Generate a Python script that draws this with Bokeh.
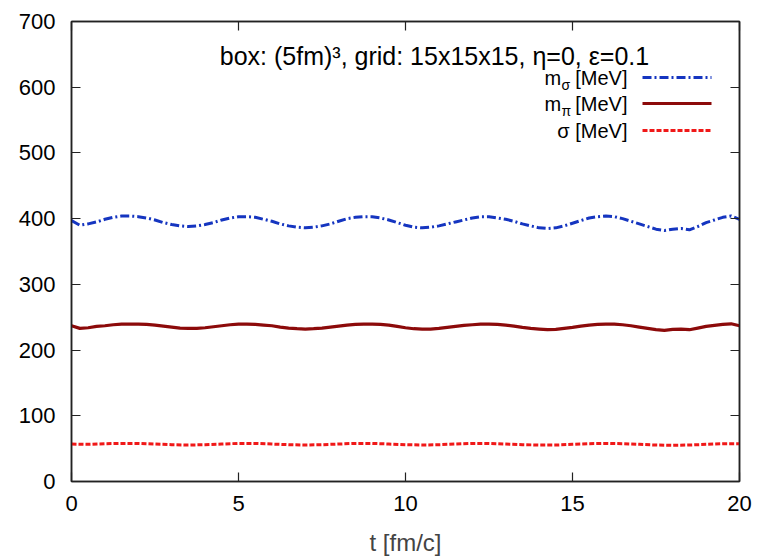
from bokeh.plotting import figure
from bokeh.models import LinearAxis, Range1d, Label, FixedTicker
from bokeh.embed import file_html
from bokeh.resources import INLINE

# ---------------- data ----------------
t_fine = [round(0.25 * i, 2) for i in range(81)]
m_sigma = [397, 390, 392, 395, 399, 402, 404, 404, 403, 401, 398, 394, 391, 389, 388, 389,
           391, 394, 398, 401, 403, 403, 402, 399, 396, 392, 389, 387, 386, 387, 389, 392,
           396, 400, 402, 403, 403, 401, 398, 394, 390, 387, 386, 387, 389, 392, 395, 398,
           401, 403, 403, 401, 399, 396, 392, 389, 386, 385, 386, 389, 393, 397, 401, 403,
           404, 403, 400, 396, 392, 388, 384, 382, 384, 385, 383, 388, 394, 398, 402, 404, 399]
m_pi = [237, 233, 234, 236, 237, 238.5, 239.5, 239.5, 239.5, 239, 238, 236.5, 235, 233.5, 233, 233,
        234, 235.5, 237, 238.5, 239.5, 239.5, 239, 238, 237, 235, 233.5, 232.5, 232, 232.5, 233.5, 235,
        236.5, 238, 239, 239.5, 239.5, 239, 238, 236, 234, 232.5, 232, 232, 233, 234.5, 236, 237.5,
        238.5, 239.5, 239.5, 239, 238, 236.5, 234.5, 233, 232, 231, 231.5, 233, 234.5, 236.5, 238, 239,
        239.5, 239.5, 238.5, 237, 235, 233, 231, 230, 231.5, 232, 231, 233.5, 236, 237.5, 239, 240, 237]
t_coarse = [round(0.5 * i, 1) for i in range(41)]
sigma = [57, 56.5, 57.5, 58, 58, 57, 56, 55.5, 56, 57, 58, 58, 57, 56, 55.5, 56, 57, 58, 58, 57,
         56, 55.5, 56, 57, 58, 58, 57, 56, 55.5, 55.5, 56.5, 57.5, 58, 57.5, 56.5, 55.5, 55, 55.5,
         56.5, 57.5, 57.5]

x_ticks = [0, 5, 10, 15, 20]
y_ticks = [0, 100, 200, 300, 400, 500, 600, 700]
title_text = "box: (5fm)\u00b3, grid: 15x15x15, \u03b7=0, \u03b5=0.1"
x_label = "t [fm/c]"

# ---------------- layout ----------------
W, H = 761, 558
FL, FR, FT, FB = 71, 739, 21, 481   # frame pixel edges
X_MIN, X_MAX, Y_MIN, Y_MAX = 0, 20, 0, 700
FONT = "Liberation Sans"

def dx(px):
    return X_MIN + (px - FL) / (FR - FL) * (X_MAX - X_MIN)

def dy(py):
    return Y_MIN + (FB - py) / (FB - FT) * (Y_MAX - Y_MIN)

BLUE = "#1535c0"
DARK = "#8c0a0a"
RED = "#f01818"

p = figure(width=W, height=H, output_backend="svg", toolbar_location=None,
           x_range=Range1d(X_MIN, X_MAX), y_range=Range1d(Y_MIN, Y_MAX),
           min_border_left=FL, min_border_right=W - FR,
           min_border_top=FT, min_border_bottom=H - FB)
p.xgrid.visible = False
p.ygrid.visible = False
p.outline_line_color = "#222222"
p.outline_line_width = 1.5
p.background_fill_color = "white"
p.border_fill_color = "white"

def style_axis(ax, labels=True):
    ax.axis_line_color = "#222222"
    ax.axis_line_width = 1.5
    ax.major_tick_in = 9
    ax.major_tick_out = 0
    ax.major_tick_line_color = "#222222"
    ax.major_tick_line_width = 1.2
    ax.minor_tick_line_color = None
    ax.major_label_text_font = FONT
    ax.major_label_text_color = "black"
    if not labels:
        ax.major_label_text_font_size = "0px"
        ax.major_label_text_alpha = 0

p.xaxis.ticker = FixedTicker(ticks=x_ticks)
p.yaxis.ticker = FixedTicker(ticks=y_ticks)
style_axis(p.xaxis[0])
style_axis(p.yaxis[0])
p.xaxis.major_label_text_font_size = "22px"
p.yaxis.major_label_text_font_size = "22px"
p.xaxis.major_label_standoff = 14
p.yaxis.major_label_standoff = 16
p.xaxis.axis_label = x_label
p.xaxis.axis_label_text_font = FONT
p.xaxis.axis_label_text_font_size = "24px"
p.xaxis.axis_label_text_font_style = "normal"
p.xaxis.axis_label_standoff = 15

right_ax = LinearAxis(ticker=FixedTicker(ticks=y_ticks))
style_axis(right_ax, labels=False)
p.add_layout(right_ax, "right")
top_ax = LinearAxis(ticker=FixedTicker(ticks=x_ticks))
style_axis(top_ax, labels=False)
p.add_layout(top_ax, "above")

# data lines
p.line(t_fine, m_sigma, line_color=BLUE, line_width=3, line_dash="9 3 2 3")
p.line(t_fine, m_pi, line_color=DARK, line_width=3.2)
p.line(t_coarse, sigma, line_color=RED, line_width=3, line_dash="5 2")

# title text
p.add_layout(Label(x=dx(434), y=dy(55), text=title_text, text_align="center",
                   text_baseline="alphabetic", text_font=FONT, text_font_size="25px",
                   text_color="black"))

# legend (text right-aligned, sample on the right)
rows = [(77, "m", "\u03c3", BLUE, "9 3 2 3"), (103, "m", "\u03c0", DARK, "solid"),
        (130, None, None, RED, "5 2")]
for ry, base, sub, col, dash in rows:
    if base is None:
        p.add_layout(Label(x=dx(627), y=dy(ry), text="\u03c3 [MeV]", text_align="right",
                           text_baseline="middle", text_font=FONT, text_font_size="20px",
                           text_color="black"))
    else:
        p.add_layout(Label(x=dx(627), y=dy(ry), text="[MeV]", text_align="right",
                           text_baseline="middle", text_font=FONT, text_font_size="20px",
                           text_color="black"))
        p.add_layout(Label(x=dx(544), y=dy(ry), text=base, text_align="left",
                           text_baseline="middle", text_font=FONT, text_font_size="20px",
                           text_color="black"))
        p.add_layout(Label(x=dx(561), y=dy(ry + 7), text=sub, text_align="left",
                           text_baseline="middle", text_font=FONT, text_font_size="14px",
                           text_color="black"))
    p.line([dx(642), dx(711)], [dy(ry), dy(ry)], line_color=col, line_width=3,
           line_dash=dash)

open("out.html", "w").write(file_html(p, INLINE))
